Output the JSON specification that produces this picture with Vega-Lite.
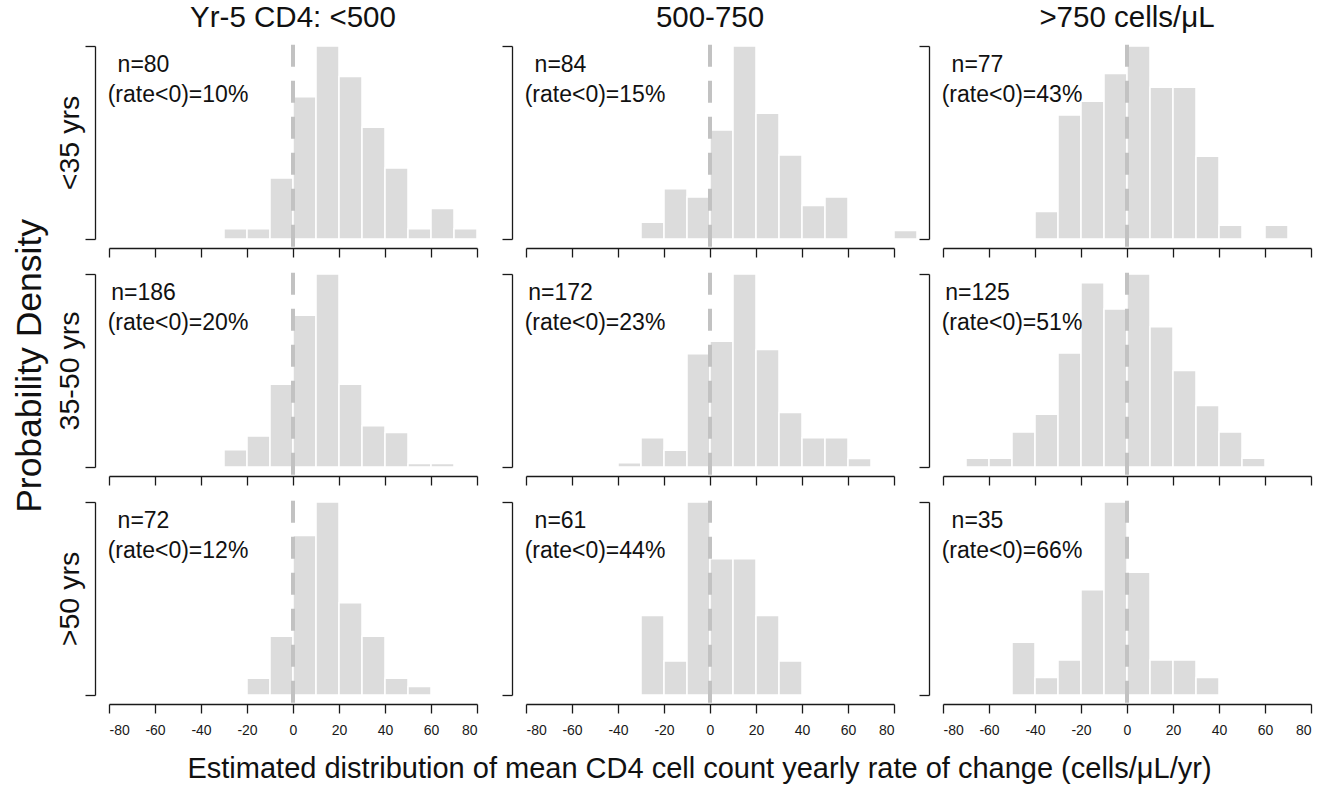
{
  "$schema": "https://vega.github.io/schema/vega-lite/v6.json",
  "background": "white",
  "padding": {"left": 12, "top": 2, "right": 5, "bottom": 5},
  "title": {"text": "Probability Density", "orient": "left", "anchor": "middle", "fontSize": 35.5, "offset": 7, "dx": 27, "fontWeight": "normal", "color": "#111111", "font": "Liberation Sans"},
  "datasets": {
    "bins": [
      {"panel": "r1c1", "bin_start": -30, "bin_end": -20, "count": 1},
      {"panel": "r1c1", "bin_start": -20, "bin_end": -10, "count": 1},
      {"panel": "r1c1", "bin_start": -10, "bin_end": 0, "count": 6},
      {"panel": "r1c1", "bin_start": 0, "bin_end": 10, "count": 14},
      {"panel": "r1c1", "bin_start": 10, "bin_end": 20, "count": 19},
      {"panel": "r1c1", "bin_start": 20, "bin_end": 30, "count": 16},
      {"panel": "r1c1", "bin_start": 30, "bin_end": 40, "count": 11},
      {"panel": "r1c1", "bin_start": 40, "bin_end": 50, "count": 7},
      {"panel": "r1c1", "bin_start": 50, "bin_end": 60, "count": 1},
      {"panel": "r1c1", "bin_start": 60, "bin_end": 70, "count": 3},
      {"panel": "r1c1", "bin_start": 70, "bin_end": 80, "count": 1},
      {"panel": "r1c2", "bin_start": -30, "bin_end": -20, "count": 2},
      {"panel": "r1c2", "bin_start": -20, "bin_end": -10, "count": 6},
      {"panel": "r1c2", "bin_start": -10, "bin_end": 0, "count": 5},
      {"panel": "r1c2", "bin_start": 0, "bin_end": 10, "count": 13},
      {"panel": "r1c2", "bin_start": 10, "bin_end": 20, "count": 23},
      {"panel": "r1c2", "bin_start": 20, "bin_end": 30, "count": 15},
      {"panel": "r1c2", "bin_start": 30, "bin_end": 40, "count": 10},
      {"panel": "r1c2", "bin_start": 40, "bin_end": 50, "count": 4},
      {"panel": "r1c2", "bin_start": 50, "bin_end": 60, "count": 5},
      {"panel": "r1c2", "bin_start": 80, "bin_end": 90, "count": 1},
      {"panel": "r1c3", "bin_start": -40, "bin_end": -30, "count": 2},
      {"panel": "r1c3", "bin_start": -30, "bin_end": -20, "count": 9},
      {"panel": "r1c3", "bin_start": -20, "bin_end": -10, "count": 10},
      {"panel": "r1c3", "bin_start": -10, "bin_end": 0, "count": 12},
      {"panel": "r1c3", "bin_start": 0, "bin_end": 10, "count": 14},
      {"panel": "r1c3", "bin_start": 10, "bin_end": 20, "count": 11},
      {"panel": "r1c3", "bin_start": 20, "bin_end": 30, "count": 11},
      {"panel": "r1c3", "bin_start": 30, "bin_end": 40, "count": 6},
      {"panel": "r1c3", "bin_start": 40, "bin_end": 50, "count": 1},
      {"panel": "r1c3", "bin_start": 60, "bin_end": 70, "count": 1},
      {"panel": "r2c1", "bin_start": -30, "bin_end": -20, "count": 5},
      {"panel": "r2c1", "bin_start": -20, "bin_end": -10, "count": 9},
      {"panel": "r2c1", "bin_start": -10, "bin_end": 0, "count": 24},
      {"panel": "r2c1", "bin_start": 0, "bin_end": 10, "count": 44},
      {"panel": "r2c1", "bin_start": 10, "bin_end": 20, "count": 56},
      {"panel": "r2c1", "bin_start": 20, "bin_end": 30, "count": 24},
      {"panel": "r2c1", "bin_start": 30, "bin_end": 40, "count": 12},
      {"panel": "r2c1", "bin_start": 40, "bin_end": 50, "count": 10},
      {"panel": "r2c1", "bin_start": 50, "bin_end": 60, "count": 1},
      {"panel": "r2c1", "bin_start": 60, "bin_end": 70, "count": 1},
      {"panel": "r2c2", "bin_start": -40, "bin_end": -30, "count": 1},
      {"panel": "r2c2", "bin_start": -30, "bin_end": -20, "count": 7},
      {"panel": "r2c2", "bin_start": -20, "bin_end": -10, "count": 4},
      {"panel": "r2c2", "bin_start": -10, "bin_end": 0, "count": 27},
      {"panel": "r2c2", "bin_start": 0, "bin_end": 10, "count": 30},
      {"panel": "r2c2", "bin_start": 10, "bin_end": 20, "count": 46},
      {"panel": "r2c2", "bin_start": 20, "bin_end": 30, "count": 28},
      {"panel": "r2c2", "bin_start": 30, "bin_end": 40, "count": 13},
      {"panel": "r2c2", "bin_start": 40, "bin_end": 50, "count": 7},
      {"panel": "r2c2", "bin_start": 50, "bin_end": 60, "count": 7},
      {"panel": "r2c2", "bin_start": 60, "bin_end": 70, "count": 2},
      {"panel": "r2c3", "bin_start": -70, "bin_end": -60, "count": 1},
      {"panel": "r2c3", "bin_start": -60, "bin_end": -50, "count": 1},
      {"panel": "r2c3", "bin_start": -50, "bin_end": -40, "count": 4},
      {"panel": "r2c3", "bin_start": -40, "bin_end": -30, "count": 6},
      {"panel": "r2c3", "bin_start": -30, "bin_end": -20, "count": 13},
      {"panel": "r2c3", "bin_start": -20, "bin_end": -10, "count": 21},
      {"panel": "r2c3", "bin_start": -10, "bin_end": 0, "count": 18},
      {"panel": "r2c3", "bin_start": 0, "bin_end": 10, "count": 22},
      {"panel": "r2c3", "bin_start": 10, "bin_end": 20, "count": 16},
      {"panel": "r2c3", "bin_start": 20, "bin_end": 30, "count": 11},
      {"panel": "r2c3", "bin_start": 30, "bin_end": 40, "count": 7},
      {"panel": "r2c3", "bin_start": 40, "bin_end": 50, "count": 4},
      {"panel": "r2c3", "bin_start": 50, "bin_end": 60, "count": 1},
      {"panel": "r3c1", "bin_start": -20, "bin_end": -10, "count": 2},
      {"panel": "r3c1", "bin_start": -10, "bin_end": 0, "count": 7},
      {"panel": "r3c1", "bin_start": 0, "bin_end": 10, "count": 19},
      {"panel": "r3c1", "bin_start": 10, "bin_end": 20, "count": 23},
      {"panel": "r3c1", "bin_start": 20, "bin_end": 30, "count": 11},
      {"panel": "r3c1", "bin_start": 30, "bin_end": 40, "count": 7},
      {"panel": "r3c1", "bin_start": 40, "bin_end": 50, "count": 2},
      {"panel": "r3c1", "bin_start": 50, "bin_end": 60, "count": 1},
      {"panel": "r3c2", "bin_start": -30, "bin_end": -20, "count": 7},
      {"panel": "r3c2", "bin_start": -20, "bin_end": -10, "count": 3},
      {"panel": "r3c2", "bin_start": -10, "bin_end": 0, "count": 17},
      {"panel": "r3c2", "bin_start": 0, "bin_end": 10, "count": 12},
      {"panel": "r3c2", "bin_start": 10, "bin_end": 20, "count": 12},
      {"panel": "r3c2", "bin_start": 20, "bin_end": 30, "count": 7},
      {"panel": "r3c2", "bin_start": 30, "bin_end": 40, "count": 3},
      {"panel": "r3c3", "bin_start": -50, "bin_end": -40, "count": 3},
      {"panel": "r3c3", "bin_start": -40, "bin_end": -30, "count": 1},
      {"panel": "r3c3", "bin_start": -30, "bin_end": -20, "count": 2},
      {"panel": "r3c3", "bin_start": -20, "bin_end": -10, "count": 6},
      {"panel": "r3c3", "bin_start": -10, "bin_end": 0, "count": 11},
      {"panel": "r3c3", "bin_start": 0, "bin_end": 10, "count": 7},
      {"panel": "r3c3", "bin_start": 10, "bin_end": 20, "count": 2},
      {"panel": "r3c3", "bin_start": 20, "bin_end": 30, "count": 2},
      {"panel": "r3c3", "bin_start": 30, "bin_end": 40, "count": 1}
    ],
    "notes": [
      {"panel": "r1c1", "n_label": "n=80", "rate_label": "(rate<0)=10%"},
      {"panel": "r1c2", "n_label": "n=84", "rate_label": "(rate<0)=15%"},
      {"panel": "r1c3", "n_label": "n=77", "rate_label": "(rate<0)=43%"},
      {"panel": "r2c1", "n_label": "n=186", "rate_label": "(rate<0)=20%"},
      {"panel": "r2c2", "n_label": "n=172", "rate_label": "(rate<0)=23%"},
      {"panel": "r2c3", "n_label": "n=125", "rate_label": "(rate<0)=51%"},
      {"panel": "r3c1", "n_label": "n=72", "rate_label": "(rate<0)=12%"},
      {"panel": "r3c2", "n_label": "n=61", "rate_label": "(rate<0)=44%"},
      {"panel": "r3c3", "n_label": "n=35", "rate_label": "(rate<0)=66%"}
    ]
  },
  "columns": 3,
  "spacing": {"row": 35, "column": 49},
  "bounds": "flush",
  "concat": [
    {
      "title": "Yr-5 CD4: <500",
      "width": 368, "height": 193,
      "layer": [
        {"data": {"name": "bins"}, "transform": [{"filter": "datum.panel === 'r1c1'"}],
         "mark": {"type": "bar", "fill": "#dcdcdc", "stroke": "#ffffff", "strokeWidth": 1.5},
         "encoding": {
           "x": {"field": "bin_start", "type": "quantitative", "scale": {"domain": [-80, 80], "nice": false}, "axis": {"labels": false, "title": null}},
           "x2": {"field": "bin_end"},
           "y": {"field": "count", "type": "quantitative", "scale": {"domain": [0, 19], "nice": false}, "axis": {"values": [0, 19], "title": "<35 yrs"}},
           "y2": {"datum": 0}}},
        {"data": {"name": "notes"}, "transform": [{"filter": "datum.panel === 'r1c1'"}],
         "mark": {"type": "rule", "color": "#c2c2c2", "strokeWidth": 4, "strokeDash": [22, 14]},
         "encoding": {"x": {"datum": 0}, "y": {"datum": -0.76}, "y2": {"datum": 19.76}}},
        {"data": {"name": "notes"}, "transform": [{"filter": "datum.panel === 'r1c1'"}],
         "mark": {"type": "text", "fontSize": 23, "color": "#111111"},
         "encoding": {"x": {"datum": -65}, "y": {"datum": 17.1}, "text": {"field": "n_label"}}},
        {"data": {"name": "notes"}, "transform": [{"filter": "datum.panel === 'r1c1'"}],
         "mark": {"type": "text", "fontSize": 23, "color": "#111111"},
         "encoding": {"x": {"datum": -50}, "y": {"datum": 14.16}, "text": {"field": "rate_label"}}}
      ]
    },
    {
      "title": "500-750",
      "width": 368, "height": 193,
      "layer": [
        {"data": {"name": "bins"}, "transform": [{"filter": "datum.panel === 'r1c2'"}],
         "mark": {"type": "bar", "fill": "#dcdcdc", "stroke": "#ffffff", "strokeWidth": 1.5},
         "encoding": {
           "x": {"field": "bin_start", "type": "quantitative", "scale": {"domain": [-80, 80], "nice": false}, "axis": {"labels": false, "title": null}},
           "x2": {"field": "bin_end"},
           "y": {"field": "count", "type": "quantitative", "scale": {"domain": [0, 23], "nice": false}, "axis": {"values": [0, 23], "title": null}},
           "y2": {"datum": 0}}},
        {"data": {"name": "notes"}, "transform": [{"filter": "datum.panel === 'r1c2'"}],
         "mark": {"type": "rule", "color": "#c2c2c2", "strokeWidth": 4, "strokeDash": [22, 14]},
         "encoding": {"x": {"datum": 0}, "y": {"datum": -0.92}, "y2": {"datum": 23.92}}},
        {"data": {"name": "notes"}, "transform": [{"filter": "datum.panel === 'r1c2'"}],
         "mark": {"type": "text", "fontSize": 23, "color": "#111111"},
         "encoding": {"x": {"datum": -65}, "y": {"datum": 20.7}, "text": {"field": "n_label"}}},
        {"data": {"name": "notes"}, "transform": [{"filter": "datum.panel === 'r1c2'"}],
         "mark": {"type": "text", "fontSize": 23, "color": "#111111"},
         "encoding": {"x": {"datum": -50}, "y": {"datum": 17.14}, "text": {"field": "rate_label"}}}
      ]
    },
    {
      "title": ">750 cells/μL",
      "width": 368, "height": 193,
      "layer": [
        {"data": {"name": "bins"}, "transform": [{"filter": "datum.panel === 'r1c3'"}],
         "mark": {"type": "bar", "fill": "#dcdcdc", "stroke": "#ffffff", "strokeWidth": 1.5},
         "encoding": {
           "x": {"field": "bin_start", "type": "quantitative", "scale": {"domain": [-80, 80], "nice": false}, "axis": {"labels": false, "title": null}},
           "x2": {"field": "bin_end"},
           "y": {"field": "count", "type": "quantitative", "scale": {"domain": [0, 14], "nice": false}, "axis": {"values": [0, 14], "title": null}},
           "y2": {"datum": 0}}},
        {"data": {"name": "notes"}, "transform": [{"filter": "datum.panel === 'r1c3'"}],
         "mark": {"type": "rule", "color": "#c2c2c2", "strokeWidth": 4, "strokeDash": [22, 14]},
         "encoding": {"x": {"datum": 0}, "y": {"datum": -0.56}, "y2": {"datum": 14.56}}},
        {"data": {"name": "notes"}, "transform": [{"filter": "datum.panel === 'r1c3'"}],
         "mark": {"type": "text", "fontSize": 23, "color": "#111111"},
         "encoding": {"x": {"datum": -65}, "y": {"datum": 12.6}, "text": {"field": "n_label"}}},
        {"data": {"name": "notes"}, "transform": [{"filter": "datum.panel === 'r1c3'"}],
         "mark": {"type": "text", "fontSize": 23, "color": "#111111"},
         "encoding": {"x": {"datum": -50}, "y": {"datum": 10.43}, "text": {"field": "rate_label"}}}
      ]
    },
    {
      "width": 368, "height": 193,
      "layer": [
        {"data": {"name": "bins"}, "transform": [{"filter": "datum.panel === 'r2c1'"}],
         "mark": {"type": "bar", "fill": "#dcdcdc", "stroke": "#ffffff", "strokeWidth": 1.5},
         "encoding": {
           "x": {"field": "bin_start", "type": "quantitative", "scale": {"domain": [-80, 80], "nice": false}, "axis": {"labels": false, "title": null}},
           "x2": {"field": "bin_end"},
           "y": {"field": "count", "type": "quantitative", "scale": {"domain": [0, 56], "nice": false}, "axis": {"values": [0, 56], "title": "35-50 yrs"}},
           "y2": {"datum": 0}}},
        {"data": {"name": "notes"}, "transform": [{"filter": "datum.panel === 'r2c1'"}],
         "mark": {"type": "rule", "color": "#c2c2c2", "strokeWidth": 4, "strokeDash": [22, 14]},
         "encoding": {"x": {"datum": 0}, "y": {"datum": -2.24}, "y2": {"datum": 58.24}}},
        {"data": {"name": "notes"}, "transform": [{"filter": "datum.panel === 'r2c1'"}],
         "mark": {"type": "text", "fontSize": 23, "color": "#111111"},
         "encoding": {"x": {"datum": -65}, "y": {"datum": 50.4}, "text": {"field": "n_label"}}},
        {"data": {"name": "notes"}, "transform": [{"filter": "datum.panel === 'r2c1'"}],
         "mark": {"type": "text", "fontSize": 23, "color": "#111111"},
         "encoding": {"x": {"datum": -50}, "y": {"datum": 41.72}, "text": {"field": "rate_label"}}}
      ]
    },
    {
      "width": 368, "height": 193,
      "layer": [
        {"data": {"name": "bins"}, "transform": [{"filter": "datum.panel === 'r2c2'"}],
         "mark": {"type": "bar", "fill": "#dcdcdc", "stroke": "#ffffff", "strokeWidth": 1.5},
         "encoding": {
           "x": {"field": "bin_start", "type": "quantitative", "scale": {"domain": [-80, 80], "nice": false}, "axis": {"labels": false, "title": null}},
           "x2": {"field": "bin_end"},
           "y": {"field": "count", "type": "quantitative", "scale": {"domain": [0, 46], "nice": false}, "axis": {"values": [0, 46], "title": null}},
           "y2": {"datum": 0}}},
        {"data": {"name": "notes"}, "transform": [{"filter": "datum.panel === 'r2c2'"}],
         "mark": {"type": "rule", "color": "#c2c2c2", "strokeWidth": 4, "strokeDash": [22, 14]},
         "encoding": {"x": {"datum": 0}, "y": {"datum": -1.84}, "y2": {"datum": 47.84}}},
        {"data": {"name": "notes"}, "transform": [{"filter": "datum.panel === 'r2c2'"}],
         "mark": {"type": "text", "fontSize": 23, "color": "#111111"},
         "encoding": {"x": {"datum": -65}, "y": {"datum": 41.4}, "text": {"field": "n_label"}}},
        {"data": {"name": "notes"}, "transform": [{"filter": "datum.panel === 'r2c2'"}],
         "mark": {"type": "text", "fontSize": 23, "color": "#111111"},
         "encoding": {"x": {"datum": -50}, "y": {"datum": 34.27}, "text": {"field": "rate_label"}}}
      ]
    },
    {
      "width": 368, "height": 193,
      "layer": [
        {"data": {"name": "bins"}, "transform": [{"filter": "datum.panel === 'r2c3'"}],
         "mark": {"type": "bar", "fill": "#dcdcdc", "stroke": "#ffffff", "strokeWidth": 1.5},
         "encoding": {
           "x": {"field": "bin_start", "type": "quantitative", "scale": {"domain": [-80, 80], "nice": false}, "axis": {"labels": false, "title": null}},
           "x2": {"field": "bin_end"},
           "y": {"field": "count", "type": "quantitative", "scale": {"domain": [0, 22], "nice": false}, "axis": {"values": [0, 22], "title": null}},
           "y2": {"datum": 0}}},
        {"data": {"name": "notes"}, "transform": [{"filter": "datum.panel === 'r2c3'"}],
         "mark": {"type": "rule", "color": "#c2c2c2", "strokeWidth": 4, "strokeDash": [22, 14]},
         "encoding": {"x": {"datum": 0}, "y": {"datum": -0.88}, "y2": {"datum": 22.88}}},
        {"data": {"name": "notes"}, "transform": [{"filter": "datum.panel === 'r2c3'"}],
         "mark": {"type": "text", "fontSize": 23, "color": "#111111"},
         "encoding": {"x": {"datum": -65}, "y": {"datum": 19.8}, "text": {"field": "n_label"}}},
        {"data": {"name": "notes"}, "transform": [{"filter": "datum.panel === 'r2c3'"}],
         "mark": {"type": "text", "fontSize": 23, "color": "#111111"},
         "encoding": {"x": {"datum": -50}, "y": {"datum": 16.39}, "text": {"field": "rate_label"}}}
      ]
    },
    {
      "width": 368, "height": 193,
      "layer": [
        {"data": {"name": "bins"}, "transform": [{"filter": "datum.panel === 'r3c1'"}],
         "mark": {"type": "bar", "fill": "#dcdcdc", "stroke": "#ffffff", "strokeWidth": 1.5},
         "encoding": {
           "x": {"field": "bin_start", "type": "quantitative", "scale": {"domain": [-80, 80], "nice": false}, "axis": {"title": null}},
           "x2": {"field": "bin_end"},
           "y": {"field": "count", "type": "quantitative", "scale": {"domain": [0, 23], "nice": false}, "axis": {"values": [0, 23], "title": ">50 yrs"}},
           "y2": {"datum": 0}}},
        {"data": {"name": "notes"}, "transform": [{"filter": "datum.panel === 'r3c1'"}],
         "mark": {"type": "rule", "color": "#c2c2c2", "strokeWidth": 4, "strokeDash": [22, 14]},
         "encoding": {"x": {"datum": 0}, "y": {"datum": -0.92}, "y2": {"datum": 23.92}}},
        {"data": {"name": "notes"}, "transform": [{"filter": "datum.panel === 'r3c1'"}],
         "mark": {"type": "text", "fontSize": 23, "color": "#111111"},
         "encoding": {"x": {"datum": -65}, "y": {"datum": 20.7}, "text": {"field": "n_label"}}},
        {"data": {"name": "notes"}, "transform": [{"filter": "datum.panel === 'r3c1'"}],
         "mark": {"type": "text", "fontSize": 23, "color": "#111111"},
         "encoding": {"x": {"datum": -50}, "y": {"datum": 17.14}, "text": {"field": "rate_label"}}}
      ]
    },
    {
      "width": 368, "height": 193,
      "layer": [
        {"data": {"name": "bins"}, "transform": [{"filter": "datum.panel === 'r3c2'"}],
         "mark": {"type": "bar", "fill": "#dcdcdc", "stroke": "#ffffff", "strokeWidth": 1.5},
         "encoding": {
           "x": {"field": "bin_start", "type": "quantitative", "scale": {"domain": [-80, 80], "nice": false}, "axis": {"title": "Estimated distribution of mean CD4 cell count yearly rate of change (cells/μL/yr)", "titleX": 173}},
           "x2": {"field": "bin_end"},
           "y": {"field": "count", "type": "quantitative", "scale": {"domain": [0, 17], "nice": false}, "axis": {"values": [0, 17], "title": null}},
           "y2": {"datum": 0}}},
        {"data": {"name": "notes"}, "transform": [{"filter": "datum.panel === 'r3c2'"}],
         "mark": {"type": "rule", "color": "#c2c2c2", "strokeWidth": 4, "strokeDash": [22, 14]},
         "encoding": {"x": {"datum": 0}, "y": {"datum": -0.68}, "y2": {"datum": 17.68}}},
        {"data": {"name": "notes"}, "transform": [{"filter": "datum.panel === 'r3c2'"}],
         "mark": {"type": "text", "fontSize": 23, "color": "#111111"},
         "encoding": {"x": {"datum": -65}, "y": {"datum": 15.3}, "text": {"field": "n_label"}}},
        {"data": {"name": "notes"}, "transform": [{"filter": "datum.panel === 'r3c2'"}],
         "mark": {"type": "text", "fontSize": 23, "color": "#111111"},
         "encoding": {"x": {"datum": -50}, "y": {"datum": 12.67}, "text": {"field": "rate_label"}}}
      ]
    },
    {
      "width": 368, "height": 193,
      "layer": [
        {"data": {"name": "bins"}, "transform": [{"filter": "datum.panel === 'r3c3'"}],
         "mark": {"type": "bar", "fill": "#dcdcdc", "stroke": "#ffffff", "strokeWidth": 1.5},
         "encoding": {
           "x": {"field": "bin_start", "type": "quantitative", "scale": {"domain": [-80, 80], "nice": false}, "axis": {"title": null}},
           "x2": {"field": "bin_end"},
           "y": {"field": "count", "type": "quantitative", "scale": {"domain": [0, 11], "nice": false}, "axis": {"values": [0, 11], "title": null}},
           "y2": {"datum": 0}}},
        {"data": {"name": "notes"}, "transform": [{"filter": "datum.panel === 'r3c3'"}],
         "mark": {"type": "rule", "color": "#c2c2c2", "strokeWidth": 4, "strokeDash": [22, 14]},
         "encoding": {"x": {"datum": 0}, "y": {"datum": -0.44}, "y2": {"datum": 11.44}}},
        {"data": {"name": "notes"}, "transform": [{"filter": "datum.panel === 'r3c3'"}],
         "mark": {"type": "text", "fontSize": 23, "color": "#111111"},
         "encoding": {"x": {"datum": -65}, "y": {"datum": 9.9}, "text": {"field": "n_label"}}},
        {"data": {"name": "notes"}, "transform": [{"filter": "datum.panel === 'r3c3'"}],
         "mark": {"type": "text", "fontSize": 23, "color": "#111111"},
         "encoding": {"x": {"datum": -50}, "y": {"datum": 8.2}, "text": {"field": "rate_label"}}}
      ]
    }
  ],
  "config": {
    "font": "Liberation Sans",
    "view": {"stroke": null},
    "axis": {"grid": false, "domainColor": "#1a1a1a", "tickColor": "#1a1a1a", "domainWidth": 1.3, "tickWidth": 1.3, "labelColor": "#1a1a1a", "titleColor": "#111111", "titleFontWeight": "normal", "labelFont": "Liberation Sans", "titleFont": "Liberation Sans"},
    "axisX": {"tickCount": 9, "tickSize": 9, "offset": 9, "labelFontSize": 14, "labelPadding": 10, "labelExpr": "'' + datum.value", "titleFontSize": 29, "titlePadding": 17},
    "axisY": {"tickSize": 10, "offset": 14, "labels": false, "titleFontSize": 28.5, "titlePadding": 0},
    "title": {"fontSize": 29.5, "fontWeight": "normal", "color": "#111111", "font": "Liberation Sans", "offset": 3}
  }
}
